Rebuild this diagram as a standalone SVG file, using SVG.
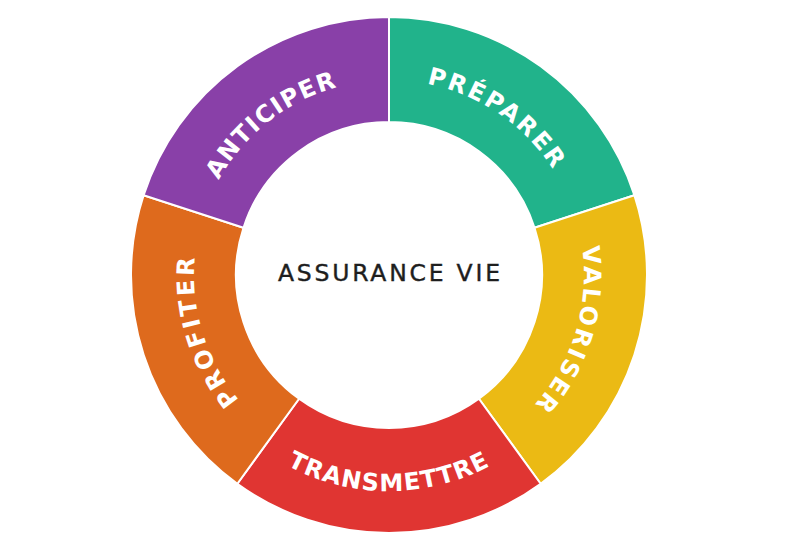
<svg xmlns="http://www.w3.org/2000/svg" width="800" height="559" viewBox="0 0 800 559">
  <style>
    .seg { stroke: #ffffff; stroke-width: 2; stroke-linejoin: round; }
    .lbl { font-family: "DejaVu Sans", "Liberation Sans", sans-serif; font-weight: 700; font-size: 24px; fill: #ffffff; }
    .center { font-family: "DejaVu Sans", "Liberation Sans", sans-serif; font-size: 23.5px; fill: #1e1e1e; stroke: #1e1e1e; stroke-width: 0.4; }
  </style>
  <defs>
    <path id="p-anticiper" d="M194.12,268.19 A195,195 0 0 1 429.54,84.26"/>
    <path id="p-preparer" d="M336.89,87.09 A195,195 0 0 1 583.10,256.31"/>
    <path id="p-valoriser" d="M552.54,168.80 A195,195 0 0 1 465.19,454.50"/>
    <path id="p-profiter" d="M312.81,454.50 A195,195 0 0 1 225.46,168.80"/>
    <path id="p-transmettre" d="M223.53,413.84 A216,216 0 0 0 554.47,413.84"/>
  </defs>
  <rect width="800" height="559" fill="#ffffff"/>
  <g id="preparer">
    <path class="seg" fill="#21B38B" d="M389,17 A258,258 0 0 1 634.37,195.27 L534.51,227.72 A153,153 0 0 0 389,122 Z"/>
    <text class="lbl" letter-spacing="2.4"><textPath href="#p-preparer" startOffset="50%" text-anchor="middle">PRÉPARER</textPath></text>
  </g>
  <g id="valoriser">
    <path class="seg" fill="#EBBA14" d="M634.37,195.27 A258,258 0 0 1 540.65,483.73 L478.93,398.78 A153,153 0 0 0 534.51,227.72 Z"/>
    <text class="lbl" letter-spacing="2.5"><textPath href="#p-valoriser" startOffset="50%" text-anchor="middle">VALORISER</textPath></text>
  </g>
  <g id="transmettre">
    <path class="seg" fill="#E03532" d="M540.65,483.73 A258,258 0 0 1 237.35,483.73 L299.07,398.78 A153,153 0 0 0 478.93,398.78 Z"/>
    <text class="lbl" letter-spacing="1.2"><textPath href="#p-transmettre" startOffset="50%" text-anchor="middle">TRANSMETTRE</textPath></text>
  </g>
  <g id="profiter">
    <path class="seg" fill="#DE6A1D" d="M237.35,483.73 A258,258 0 0 1 143.63,195.27 L243.49,227.72 A153,153 0 0 0 299.07,398.78 Z"/>
    <text class="lbl" letter-spacing="2.8"><textPath href="#p-profiter" startOffset="50%" text-anchor="middle">PROFITER</textPath></text>
  </g>
  <g id="anticiper">
    <path class="seg" fill="#8940A8" d="M143.63,195.27 A258,258 0 0 1 389,17 L389,122 A153,153 0 0 0 243.49,227.72 Z"/>
    <text class="lbl" letter-spacing="1.4"><textPath href="#p-anticiper" startOffset="50%" text-anchor="middle">ANTICIPER</textPath></text>
  </g>
  <g id="assurance-vie">
    <text class="center" x="389" y="280.5" text-anchor="middle" textLength="222" lengthAdjust="spacing">ASSURANCE VIE</text>
  </g>
</svg>
